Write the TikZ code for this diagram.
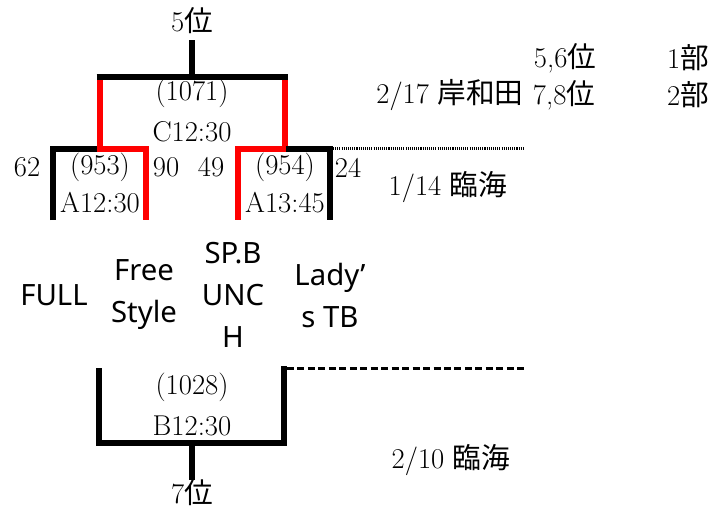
\documentclass[tikz,border=0pt]{standalone}
\usepackage{fontspec}
\setsansfont{Noto Sans}
\newfontfamily\jpfont{Noto Sans CJK JP}
\newcommand\ja[1]{{\jpfont #1}}
\begin{document}
\begin{tikzpicture}[x=0.75pt,y=-0.75pt,
  lbl/.style={inner sep=0pt, font=\fontsize{21.5}{26}\selectfont},
  sans/.style={inner sep=0pt, align=center, font=\sffamily\fontsize{22}{31.5}\selectfont},
  bk/.style={line width=4.5pt, draw=black, line join=miter},
  rd/.style={line width=4.5pt, draw=red, line join=miter},
  dotline/.style={line width=2pt, dash pattern=on 0.8pt off 0.8pt},
  dashline/.style={line width=2pt, dash pattern=on 5.25pt off 2.6pt}]
\useasboundingbox (0,0) rectangle (716,512);
% coordinates
\coordinate (ts) at (192,40);
\coordinate (tj) at (192,77);
\coordinate (tl) at (96.5,77);
\coordinate (tr) at (287.5,77);
\coordinate (rl) at (99.5,77);
\coordinate (rr) at (284.5,77);
\coordinate (ljn) at (99.5,148.5);
\coordinate (rjn) at (284.5,148.5);
\coordinate (lA) at (52.5,220);
\coordinate (lAt) at (52.5,148.5);
\coordinate (lAm) at (97,148.5);
\coordinate (lBt) at (145.5,148.5);
\coordinate (lB) at (145.5,220);
\coordinate (rAt) at (238,148.5);
\coordinate (rA) at (238,220);
\coordinate (rBm) at (286,148.5);
\coordinate (rBt) at (330,148.5);
\coordinate (rB) at (330,220);
\coordinate (dotS) at (333,148.5);
\coordinate (dotE) at (523,148.5);
\coordinate (bl) at (99,368);
\coordinate (blb) at (99,443);
\coordinate (bj) at (192,443);
\coordinate (brb) at (284,443);
\coordinate (br) at (284,366);
\coordinate (bs) at (192,480);
\coordinate (dashS) at (287,368.5);
\coordinate (dashE) at (527,368.5);
% red winners
\draw[rd] (rl) -- (ljn) -- (lBt) -- (lB);
\draw[rd] (rr) -- (rjn) -- (rAt) -- (rA);
% black lines
\draw[bk] (ts) -- (tj);
\draw[bk] (tl) -- (tr);
\draw[bk] (lA) -- (lAt) -- (lAm);
\draw[bk] (rBm) -- (rBt) -- (rB);
\draw[dotline] (dotS) -- (dotE);
\draw[bk] (bl) -- (blb) -- (brb) -- (br);
\draw[bk] (bj) -- (bs);
\draw[dashline] (dashS) -- (dashE);
% labels
\node[lbl] (p5) at (192,21) {5\ja{位}};
\node[lbl] (m1071) at (192,93) {(1071)};
\node[lbl] (c1230) at (192,132) {C12:30};
\node[lbl] (n62) at (27,167) {62};
\node[lbl] (m953) at (100,167) {(953)};
\node[lbl] (n90) at (166,167) {90};
\node[lbl] (n49) at (211,167) {49};
\node[lbl] (m954) at (285,167) {(954)};
\node[lbl] (n24) at (348,168) {24};
\node[lbl] (a1230) at (100,203) {A12:30};
\node[lbl] (a1345) at (285,203) {A13:45};
\node[lbl] (d114) at (448,187) {1/14 \ja{臨海}};
\node[lbl] (p56) at (565,58) {5,6\ja{位}};
\node[lbl] (b1) at (688,58) {1\ja{部}};
\node[lbl] (d217) at (450,95) {2/17 \ja{岸和田}};
\node[lbl] (p78) at (564,95) {7,8\ja{位}};
\node[lbl] (b2) at (688,95) {2\ja{部}};
\node[sans] (full) at (54,295) {FULL};
\node[sans] (free) at (144,295) {Free\\Style};
\node[sans] (spb) at (233,295) {SP.B\\UNC\\H};
\node[sans] (lady) at (330,295) {Lady’\\s TB};
\node[lbl] (m1028) at (192,387) {(1028)};
\node[lbl] (b1230) at (192,426) {B12:30};
\node[lbl] (p7) at (192,493) {7\ja{位}};
\node[lbl] (d210) at (451,460) {2/10 \ja{臨海}};
\end{tikzpicture}
\end{document}
